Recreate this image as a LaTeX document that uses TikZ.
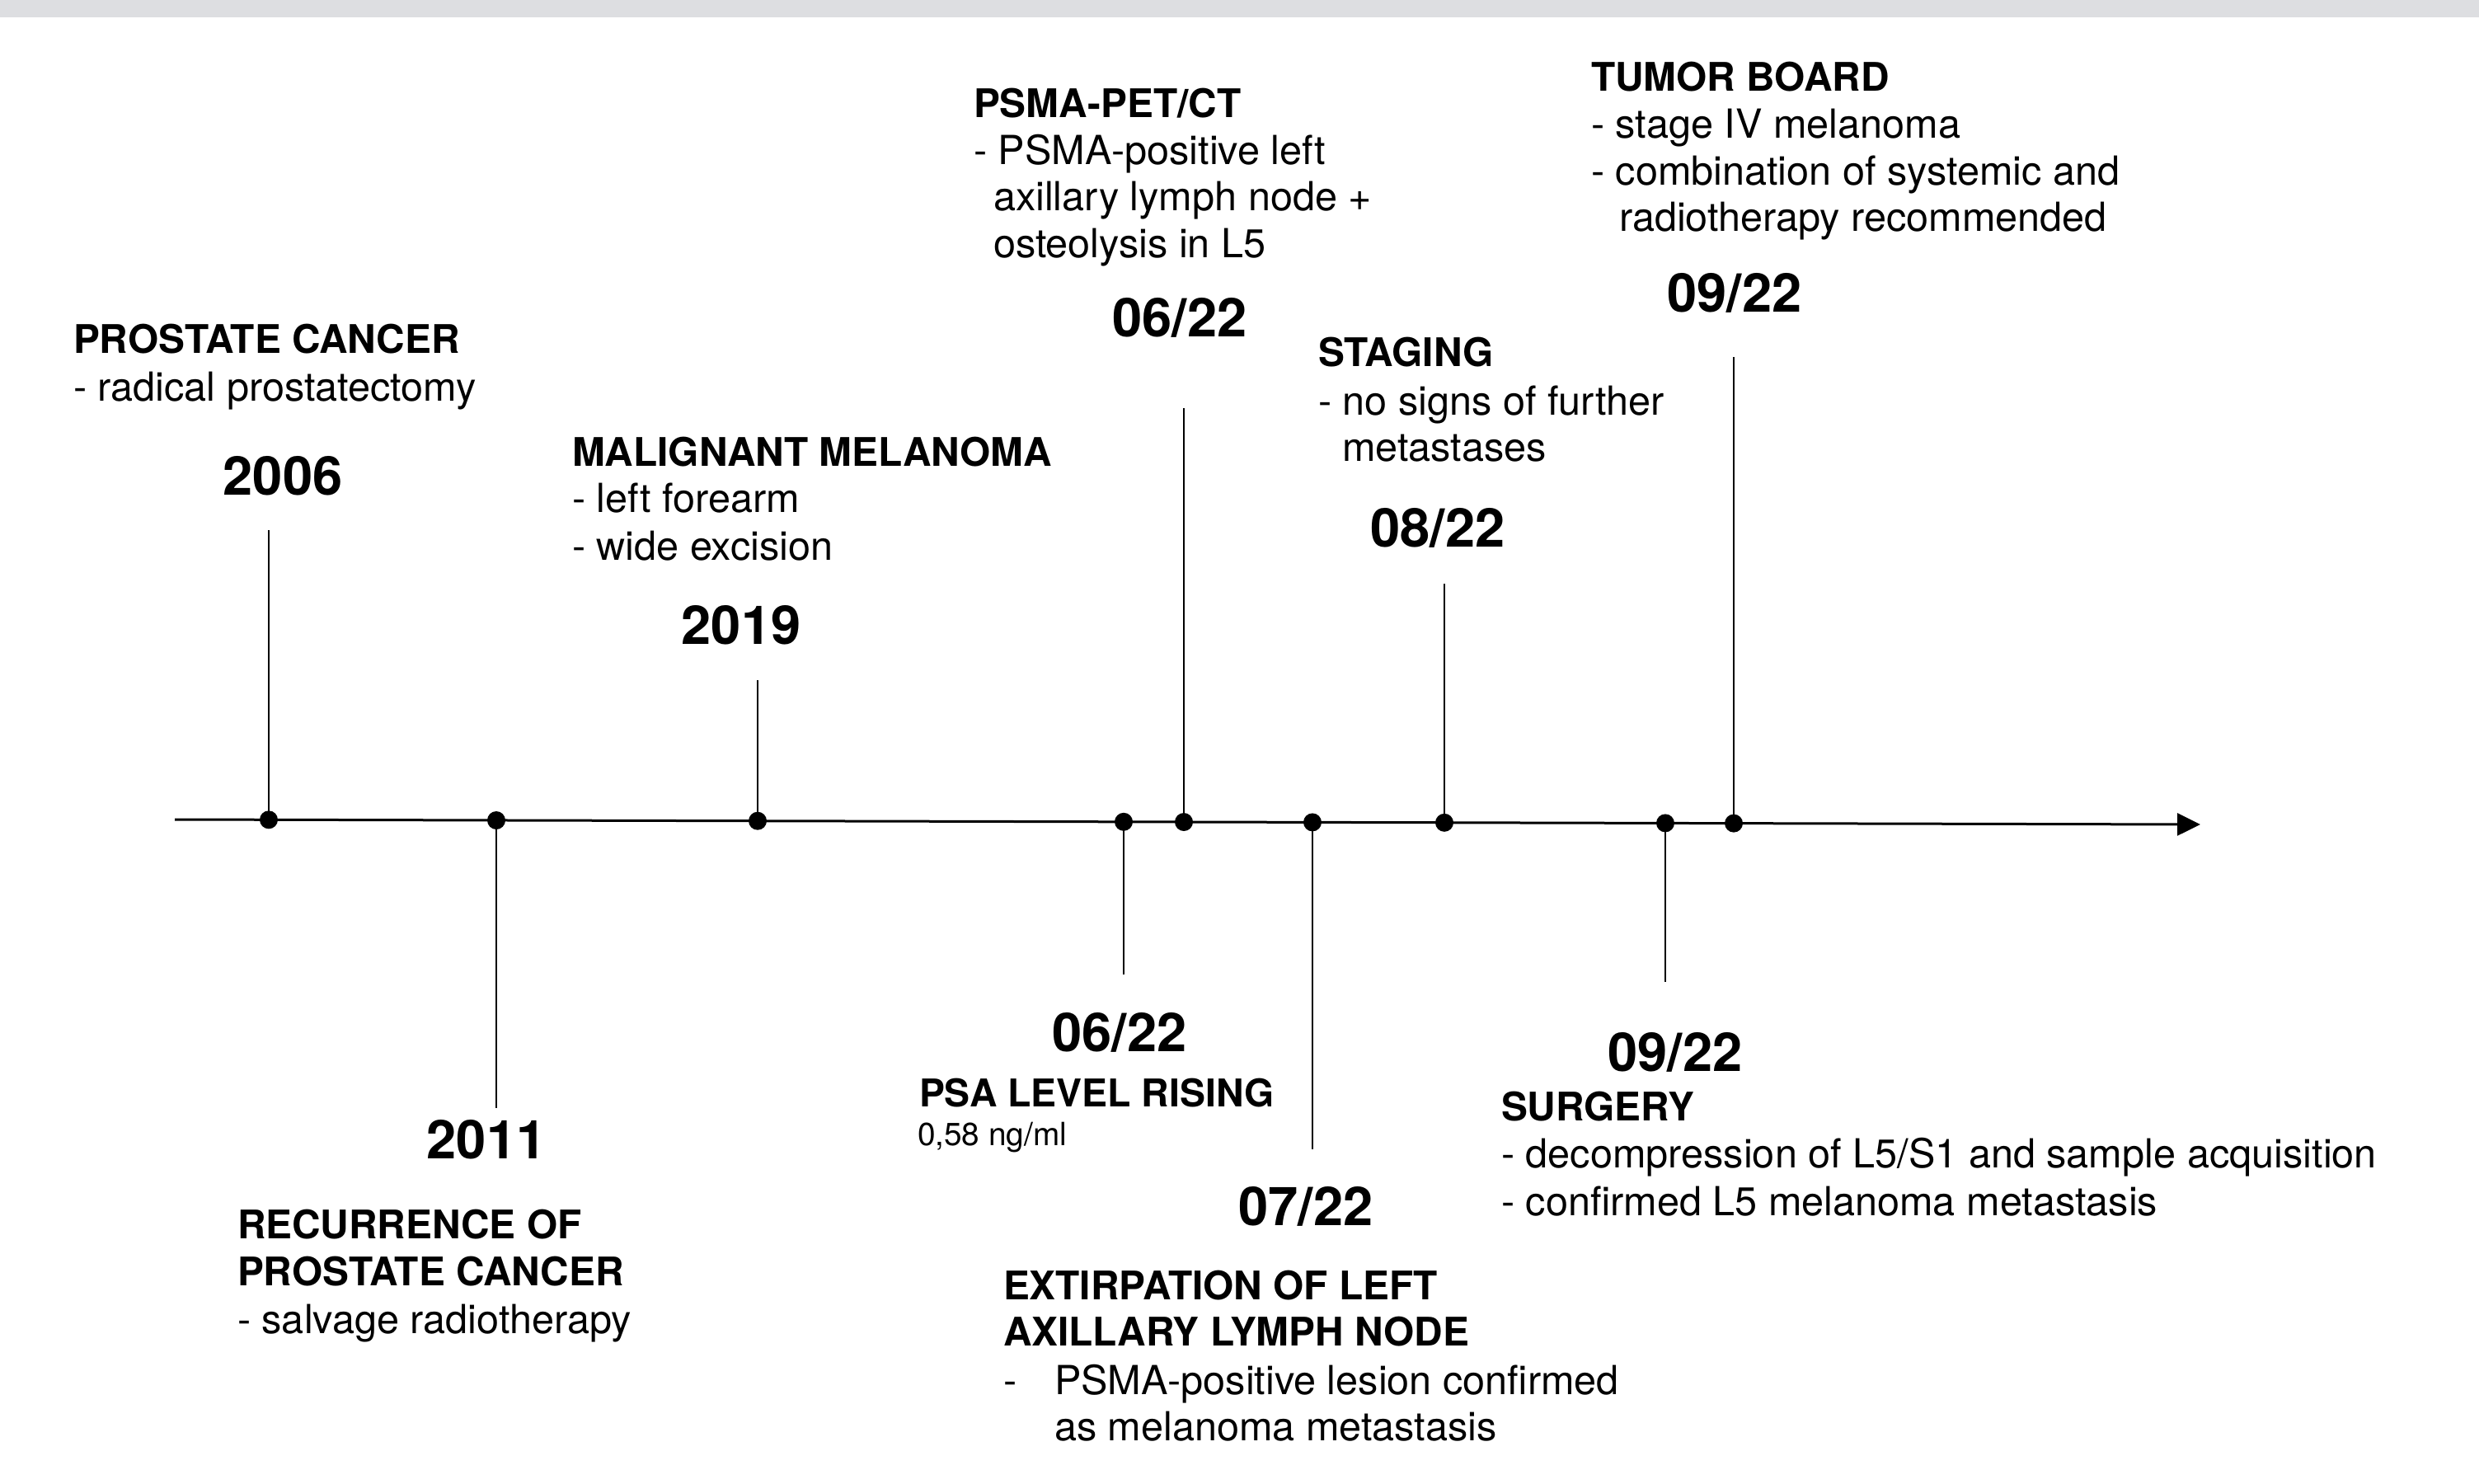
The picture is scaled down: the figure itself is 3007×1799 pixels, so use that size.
\documentclass[tikz,border=0pt]{standalone}
\usepackage{fontspec}
\setmainfont{TeX Gyre Heros}
\usetikzlibrary{arrows.meta}
\definecolor{bandgrey}{RGB}{221,222,225}
\begin{document}
\begin{tikzpicture}[x=0.25pt,y=-0.25pt,
  hd/.style={font=\fontsize{11.95}{14}\selectfont\bfseries, inner sep=0pt, outer sep=0pt, anchor=base west},
  bd/.style={font=\fontsize{12.15}{14}\selectfont, inner sep=0pt, outer sep=0pt, anchor=base west},
  sm/.style={font=\fontsize{9.7}{12}\selectfont, inner sep=0pt, outer sep=0pt, anchor=base west},
  dt/.style={font=\fontsize{16.25}{19}\selectfont\bfseries, inner sep=0pt, outer sep=0pt, anchor=base},
  dot/.style={circle, fill=black, inner sep=0pt, minimum size=5.5pt},
  vline/.style={line width=0.6pt, black},
  axisline/.style={line width=0.75pt, black, -{Triangle[length=7pt,width=6.75pt]}}]
% background and top band
\fill[white] (0,0) rectangle (3007,1799);
\fill[bandgrey] (0,0) rectangle (3007,21);
\useasboundingbox (0,0) rectangle (3007,1799);

% axis
\coordinate (a0) at (212,994);
\coordinate (a1) at (2669,1000);
\draw[axisline] (a0) -- (a1);

% stem end points
\coordinate (t1) at (326,643);
\coordinate (t2) at (602,1344);
\coordinate (t3) at (919,825);
\coordinate (t4) at (1363,1182);
\coordinate (t5) at (1436,495);
\coordinate (t6) at (1592,1394);
\coordinate (t7) at (1752,708);
\coordinate (t8) at (2020,1191);
\coordinate (t9) at (2103,433);

% dots
\node[dot] (d1) at (326,994.3) {};
\node[dot] (d2) at (602,995.0) {};
\node[dot] (d3) at (919,995.7) {};
\node[dot] (d4) at (1363,996.8) {};
\node[dot] (d5) at (1436,997.0) {};
\node[dot] (d6) at (1592,997.4) {};
\node[dot] (d7) at (1752,997.8) {};
\node[dot] (d8) at (2020,998.4) {};
\node[dot] (d9) at (2103,998.6) {};

\foreach \i in {1,...,9} {\draw[vline] (d\i.center) -- (t\i);}

% 2006
\node[hd] (e1h) at (89,428) {PROSTATE CANCER};
\node[bd] (e1a) at (89,486) {- radical prostatectomy};
\node[dt] (e1d) at (343,600) {2006};

% 2019
\node[hd] (e2h) at (694,565) {MALIGNANT MELANOMA};
\node[bd] (e2a) at (694,621) {- left forearm};
\node[bd] (e2b) at (694,679) {- wide excision};
\node[dt] (e2d) at (899,781) {2019};

% 2011
\node[dt] (e3d) at (590,1405) {2011};
\node[hd] (e3h) at (288,1502) {RECURRENCE OF};
\node[hd] (e3i) at (288,1559) {PROSTATE CANCER};
\node[bd] (e3a) at (288,1617) {- salvage radiotherapy};

% 06/22 PSA
\node[dt] (e4d) at (1358,1275) {06/22};
\node[hd, font=\fontsize{11.6}{14}\selectfont\bfseries] (e4h) at (1115,1342) {PSA LEVEL RISING};
\node[sm] (e4a) at (1113,1389) {0,58 ng/ml};

% 07/22
\node[dt] (e5d) at (1584,1486) {07/22};
\node[hd] (e5h) at (1217,1576) {EXTIRPATION OF LEFT};
\node[hd] (e5i) at (1217,1632) {AXILLARY LYMPH NODE};
\node[bd] (e5m) at (1217,1691) {-};
\node[bd] (e5a) at (1279,1691) {PSMA-positive lesion confirmed};
\node[bd] (e5b) at (1279,1747) {as melanoma metastasis};

% 09/22 surgery
\node[dt] (e6d) at (2032,1299) {09/22};
\node[hd] (e6h) at (1821,1359) {SURGERY};
\node[bd] (e6a) at (1821,1416) {- decompression of L5/S1 and sample acquisition};
\node[bd] (e6b) at (1821,1474) {- confirmed L5 melanoma metastasis};

% 06/22 PSMA-PET/CT
\node[hd] (e7h) at (1181,142) {PSMA-PET/CT};
\node[bd] (e7a) at (1181,199) {- PSMA-positive left};
\node[bd] (e7b) at (1205,255) {axillary lymph node +};
\node[bd] (e7c) at (1205,312) {osteolysis in L5};
\node[dt] (e7d) at (1431,408) {06/22};

% 08/22 staging
\node[hd] (e8h) at (1599,444) {STAGING};
\node[bd] (e8a) at (1599,503) {- no signs of further};
\node[bd] (e8b) at (1628,559) {metastases};
\node[dt] (e8d) at (1744,663) {08/22};

% 09/22 tumor board
\node[hd] (e9h) at (1930,110) {TUMOR BOARD};
\node[bd] (e9a) at (1930,167) {- stage IV melanoma};
\node[bd] (e9b) at (1930,224) {- combination of systemic and};
\node[bd] (e9c) at (1964,280) {radiotherapy recommended};
\node[dt] (e9d) at (2104,378) {09/22};
\end{tikzpicture}
\end{document}
